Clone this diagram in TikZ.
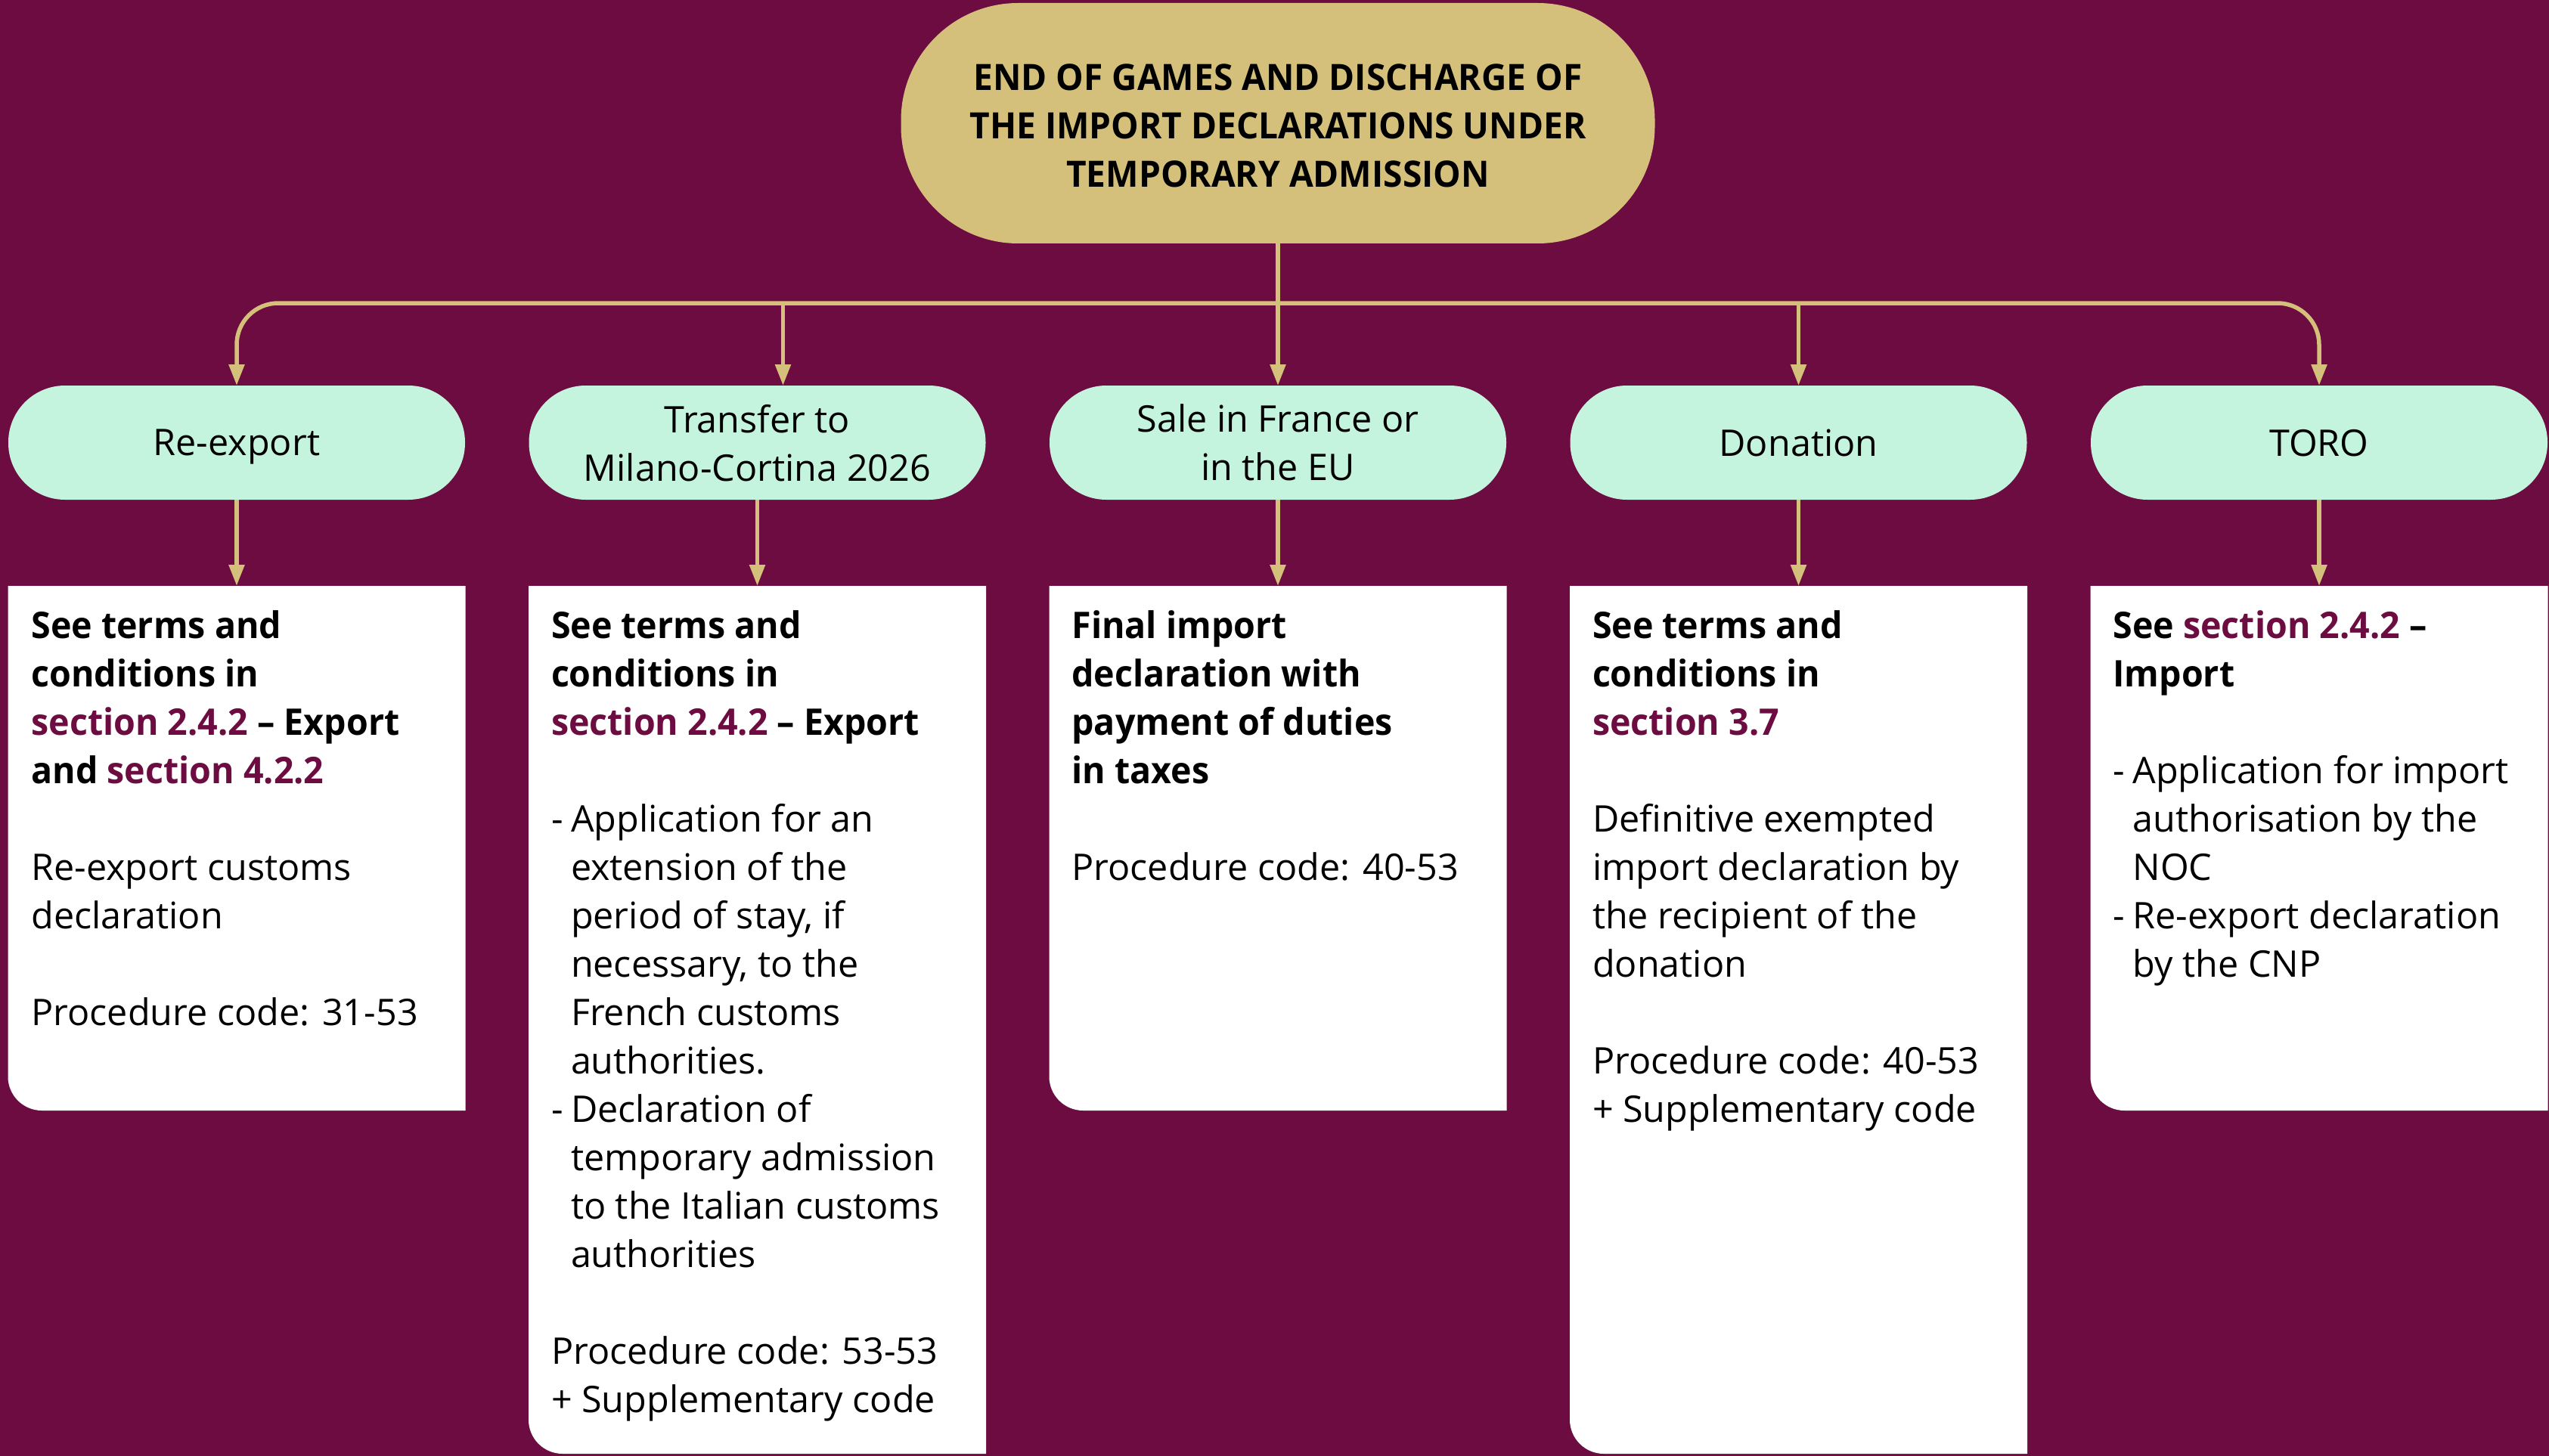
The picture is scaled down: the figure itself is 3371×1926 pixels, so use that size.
\documentclass[tikz,border=0pt]{standalone}
\usepackage{fontspec}
\setmainfont{Open Sans}[BoldFeatures={FakeStretch=0.96}]
\usetikzlibrary{arrows.meta}

\definecolor{wine}{RGB}{108,12,64}
\definecolor{gold}{RGB}{212,192,122}
\definecolor{mint}{RGB}{196,243,222}

% coloured cross-references inside the boxes
\newcommand{\seclink}[1]{\textcolor{wine}{#1}}
% list item dash and hanging indent
\newcommand{\itm}{\makebox[26pt][l]{-}}
\newcommand{\ind}{\hspace*{26pt}}

\begin{document}
\begin{tikzpicture}[x=1pt,y=-1pt,
  every node/.style={inner sep=0pt, outer sep=0pt},
  txt/.style={font=\fontsize{48.5}{64}\selectfont, text=black},
  headbox/.style={fill=gold, rounded corners=155pt, minimum width=997pt,
    minimum height=318pt, align=center, text=black,
    text height=169pt, text depth=0pt,
    font=\fontsize{48}{64}\selectfont\bfseries},
  pill/.style={txt, fill=mint, rounded corners=75pt, minimum width=604pt,
    minimum height=151pt, align=center, text depth=0pt},
  frame/.style={minimum width=605pt, anchor=north},
  body/.style={txt, anchor=base west},
  link/.style={draw=gold, line width=5.5pt},
  arr/.style={link, -{Triangle[width=20pt,length=28pt]}},
]
% canvas
\useasboundingbox (0,0) rectangle (3371,1926);
\fill[wine] (0,0) rectangle (3371,1926);

% heading
\node[headbox] (title) at (1690,163)
  {END OF GAMES AND DISCHARGE OF\\THE IMPORT DECLARATIONS UNDER\\TEMPORARY ADMISSION};

% options
\node[pill] (p1) at (313,585.5) {Re-export};
\node[pill] (p2) at (1001.5,585.5) {Transfer to\\Milano-Cortina 2026};
\node[pill] (p3) at (1690,585.5) {Sale in France or\\in the EU};
\node[pill] (p4) at (2378.5,585.5) {Donation};
\node[pill] (p5) at (3067,585.5) {TORO};

% detail boxes (outline nodes)
\node[frame, minimum height=694pt]  (b1) at (313,775) {};
\node[frame, minimum height=1148pt] (b2) at (1001.5,775) {};
\node[frame, minimum height=694pt]  (b3) at (1690,775) {};
\node[frame, minimum height=1148pt] (b4) at (2378.5,775) {};
\node[frame, minimum height=694pt]  (b5) at (3067,775) {};

% white panels with a rounded lower-left corner
\foreach \b in {b1,b2,b3,b4,b5}
  \fill[white] (\b.north west) -- (\b.north east) -- (\b.south east)
    -- ([xshift=45pt]\b.south west) arc[start angle=90,end angle=180,radius=45]
    -- cycle;

% box texts
\node[body] (t1) at ([xshift=31pt]b1.north west |- 0,844) {%
\begin{tabular}[t]{@{}l@{}}
\textbf{See terms and}\\
\textbf{conditions in}\\
\textbf{\seclink{section 2.4.2} – Export}\\
\textbf{and \seclink{section 4.2.2}}\\
\\
Re-export customs\\
declaration\\
\\
Procedure code: 31-53
\end{tabular}};

\node[body] (t2) at ([xshift=30pt]b2.north west |- 0,844) {%
\begin{tabular}[t]{@{}l@{}}
\textbf{See terms and}\\
\textbf{conditions in}\\
\textbf{\seclink{section 2.4.2} – Export}\\
\\
\itm Application for an\\
\ind extension of the\\
\ind period of stay, if\\
\ind necessary, to the\\
\ind French customs\\
\ind authorities.\\
\itm Declaration of\\
\ind temporary admission\\
\ind to the Italian customs\\
\ind authorities\\
\\
Procedure code: 53-53\\
+ Supplementary code
\end{tabular}};

\node[body] (t3) at ([xshift=30pt]b3.north west |- 0,844) {%
\begin{tabular}[t]{@{}l@{}}
\textbf{Final import}\\
\textbf{declaration with}\\
\textbf{payment of duties}\\
\textbf{in taxes}\\
\\
Procedure code: 40-53
\end{tabular}};

\node[body] (t4) at ([xshift=30pt]b4.north west |- 0,844) {%
\begin{tabular}[t]{@{}l@{}}
\textbf{See terms and}\\
\textbf{conditions in}\\
\textbf{\seclink{section 3.7}}\\
\\
Definitive exempted\\
import declaration by\\
the recipient of the\\
donation\\
\\
Procedure code: 40-53\\
+ Supplementary code
\end{tabular}};

\node[body] (t5) at ([xshift=30pt]b5.north west |- 0,844) {%
\begin{tabular}[t]{@{}l@{}}
\textbf{See \seclink{section 2.4.2} –}\\
\textbf{Import}\\
\\
\itm Application for import\\
\ind authorisation by the\\
\ind NOC\\
\itm Re-export declaration\\
\ind by the CNP
\end{tabular}};

% connectors
\coordinate (hub) at (1690,401);
\coordinate (p2in) at ([xshift=34pt]p2.north);
\draw[link] (title.south) -- (hub);
\draw[arr, rounded corners=55pt] (hub) -| (p1.north);
\draw[arr, rounded corners=55pt] (hub) -| (p5.north);
\draw[arr] (hub -| p2in) -- (p2in);
\draw[arr] (hub) -- (p3.north);
\draw[arr] (hub -| p4.north) -- (p4.north);

\foreach \i in {1,...,5}
  \draw[arr] (p\i.south) -- (b\i.north);
\end{tikzpicture}
\end{document}
